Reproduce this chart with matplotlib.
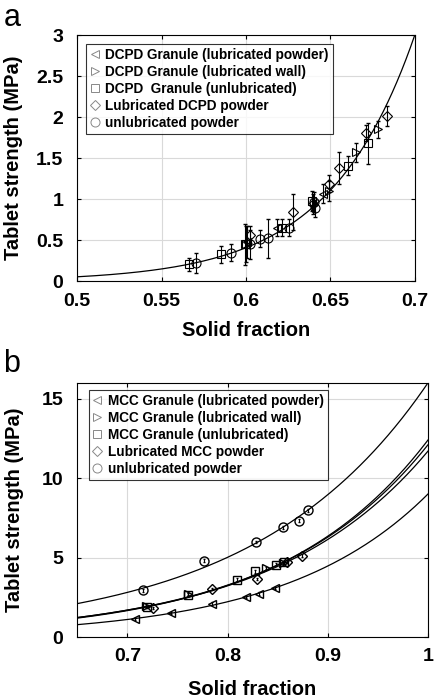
import numpy as np
import matplotlib
matplotlib.use("Agg")
import matplotlib.pyplot as plt
from matplotlib.ticker import FuncFormatter

plt.rcParams['font.family'] = ['Liberation Sans', 'DejaVu Sans']

# ---------------- Panel a: DCPD ----------------
a_labels = ["DCPD Granule (lubricated powder)", "DCPD Granule (lubricated wall)",
            "DCPD  Granule (unlubricated)", "Lubricated DCPD powder", "unlubricated powder"]
a_lub_pow_x = [0.6005, 0.6182, 0.6454]
a_lub_pow_y = [0.48, 0.656, 1.07]
a_lub_pow_e = [0.20, 0.10, 0.12]
a_lub_wall_x = [0.6000, 0.6494, 0.6651, 0.6780]
a_lub_wall_y = [0.46, 1.10, 1.57, 1.85]
a_lub_wall_e = [0.22, 0.12, 0.12, 0.10]
a_unlub_gr_x = [0.5662, 0.5851, 0.5995, 0.6210, 0.6390, 0.6606, 0.6720]
a_unlub_gr_y = [0.21, 0.33, 0.45, 0.656, 0.98, 1.41, 1.68]
a_unlub_gr_e = [0.08, 0.10, 0.25, 0.10, 0.12, 0.12, 0.25]
a_lub_dcpd_x = [0.6025, 0.6275, 0.6395, 0.6494, 0.6553, 0.6710, 0.6833]
a_lub_dcpd_y = [0.57, 0.84, 0.94, 1.19, 1.38, 1.81, 2.01]
a_lub_dcpd_e = [0.10, 0.22, 0.12, 0.10, 0.20, 0.10, 0.12]
a_unlub_pow_x = [0.5702, 0.5910, 0.6025, 0.6080, 0.6130, 0.6257, 0.6405, 0.6410]
a_unlub_pow_y = [0.22, 0.35, 0.45, 0.52, 0.525, 0.656, 0.97, 0.89]
a_unlub_pow_e = [0.12, 0.10, 0.18, 0.10, 0.24, 0.10, 0.12, 0.10]
# Ryshkewitch-Duckworth fit: sigma = sigma0 * exp(-k (1 - D))
a_fit_sigma0 = [1176.0]
a_fit_k = [19.9]

# ---------------- Panel b: MCC ----------------
b_labels = ["MCC Granule (lubricated powder)", "MCC Granule (lubricated wall)",
            "MCC Granule (unlubricated)", "Lubricated MCC powder", "unlubricated powder"]
b_lub_pow_x = [0.7076, 0.7436, 0.7845, 0.8182, 0.8314, 0.8472]
b_lub_pow_y = [1.13, 1.51, 2.10, 2.52, 2.73, 3.09]
b_lub_wall_x = [0.7191, 0.7604, 0.8386, 0.8550]
b_lub_wall_y = [1.93, 2.71, 4.35, 4.66]
b_unlub_gr_x = [0.7200, 0.7610, 0.8096, 0.8270, 0.8485, 0.8560]
b_unlub_gr_y = [1.89, 2.67, 3.61, 4.14, 4.56, 4.70]
b_lub_mcc_x = [0.7254, 0.7845, 0.8297, 0.8590, 0.8743]
b_lub_mcc_y = [1.83, 3.03, 3.66, 4.75, 5.13]
b_unlub_pow_x = [0.7155, 0.7769, 0.8280, 0.8554, 0.8716, 0.8799]
b_unlub_pow_y = [2.94, 4.81, 5.97, 6.91, 7.33, 7.98]
b_fit_sigma0 = [9.0, 12.4, 12.1, 11.7, 16.0]
b_fit_k = [7.0, 6.7, 6.55, 6.45, 5.8]

markers = ['<', '>', 's', 'D', 'o']
msizes = [6, 6, 5.5, 5, 6.5]

fig = plt.figure(figsize=(4.34, 7.0), dpi=100)

def fmt(v, pos):
    return '%g' % v

def style_axes(ax, ylab_x, xlab_y):
    ax.grid(True, color='#d9d9d9', linewidth=0.8)
    ax.set_axisbelow(True)
    ax.tick_params(direction='in', length=3, top=True, right=True, labelsize=14)
    ax.tick_params(axis='x', pad=8)
    ax.tick_params(axis='y', pad=10)
    for lbl in ax.get_xticklabels() + ax.get_yticklabels():
        lbl.set_fontweight('bold')
    for sp in ax.spines.values():
        sp.set_linewidth(0.8)
    ax.xaxis.set_major_formatter(FuncFormatter(fmt))
    ax.yaxis.set_major_formatter(FuncFormatter(fmt))
    ax.set_xlabel('Solid fraction', fontsize=14.5, fontweight='bold', va='center')
    ax.set_ylabel('Tablet strength (MPa)', fontsize=14.5, fontweight='bold', va='center')
    ax.yaxis.set_label_coords(ylab_x, 0.5)
    ax.xaxis.set_label_coords(0.5, xlab_y)

# Panel a
ax1 = fig.add_axes([0.178, 0.598, 0.778, 0.352])
a_sets = [(a_lub_pow_x, a_lub_pow_y, a_lub_pow_e), (a_lub_wall_x, a_lub_wall_y, a_lub_wall_e),
          (a_unlub_gr_x, a_unlub_gr_y, a_unlub_gr_e), (a_lub_dcpd_x, a_lub_dcpd_y, a_lub_dcpd_e),
          (a_unlub_pow_x, a_unlub_pow_y, a_unlub_pow_e)]
xx = np.linspace(0.5, 0.7, 300)
ax1.plot(xx, a_fit_sigma0[0] * np.exp(-a_fit_k[0] * (1 - xx)), color='black', lw=0.9, zorder=3)
handles = []
for (x, y, e), m, ms, lab in zip(a_sets, markers, msizes, a_labels):
    ax1.errorbar(x, y, yerr=e, fmt='none', ecolor='black', elinewidth=0.8, capsize=1.2, zorder=4)
    ax1.plot(x, y, linestyle='none', marker=m, ms=ms, mfc='none', mec='black', mew=0.8, zorder=5)
    lh, = ax1.plot([], [], linestyle='none', marker=m, ms=ms, mfc='none', mec='#888888', mew=0.7, label=lab)
    handles.append(lh)
ax1.set_xlim(0.5, 0.7)
ax1.set_ylim(0, 3)
ax1.set_xticks([0.5, 0.55, 0.6, 0.65, 0.7])
ax1.set_yticks([0, 0.5, 1, 1.5, 2, 2.5, 3])
style_axes(ax1, -0.19, -0.2)
leg = ax1.legend(handles=handles, loc='upper left', bbox_to_anchor=(0.027, 0.965),
                 prop={'weight': 'bold', 'size': 9.8}, frameon=True, fancybox=False,
                 edgecolor='black', handlelength=0.6, handletextpad=0.5,
                 labelspacing=0.22, borderpad=0.3, borderaxespad=0.0)
leg.get_frame().set_linewidth(0.8)
fig.text(0.008, 0.995, 'a', fontsize=22, va='top', ha='left')

# Panel b
ax2 = fig.add_axes([0.178, 0.09, 0.808, 0.363])
b_sets = [(b_lub_pow_x, b_lub_pow_y), (b_lub_wall_x, b_lub_wall_y), (b_unlub_gr_x, b_unlub_gr_y),
          (b_lub_mcc_x, b_lub_mcc_y), (b_unlub_pow_x, b_unlub_pow_y)]
xx = np.linspace(0.65, 1.0, 300)
for s0, k in zip(b_fit_sigma0, b_fit_k):
    ax2.plot(xx, s0 * np.exp(-k * (1 - xx)), color='black', lw=0.9, zorder=3)
handles = []
for (x, y), m, ms, lab in zip(b_sets, markers, msizes, b_labels):
    ax2.errorbar(x, y, yerr=[0.08] * len(x), fmt='none', ecolor='black', elinewidth=0.7, capsize=0.8, zorder=4)
    ax2.plot(x, y, linestyle='none', marker=m, ms=ms, mfc='none', mec='black', mew=1.0, zorder=5)
    lh, = ax2.plot([], [], linestyle='none', marker=m, ms=ms, mfc='none', mec='#888888', mew=0.7, label=lab)
    handles.append(lh)
ax2.set_xlim(0.65, 1.0)
ax2.set_ylim(0, 16)
ax2.set_xticks([0.7, 0.8, 0.9, 1.0])
ax2.set_yticks([0, 5, 10, 15])
style_axes(ax2, -0.18, -0.205)
leg = ax2.legend(handles=handles, loc='upper left', bbox_to_anchor=(0.034, 0.972),
                 prop={'weight': 'bold', 'size': 9.8}, frameon=True, fancybox=False,
                 edgecolor='black', handlelength=0.6, handletextpad=0.5,
                 labelspacing=0.22, borderpad=0.3, borderaxespad=0.0)
leg.get_frame().set_linewidth(0.8)
fig.text(0.008, 0.502, 'b', fontsize=22, va='top', ha='left')

fig.savefig('out.png', dpi=100)
